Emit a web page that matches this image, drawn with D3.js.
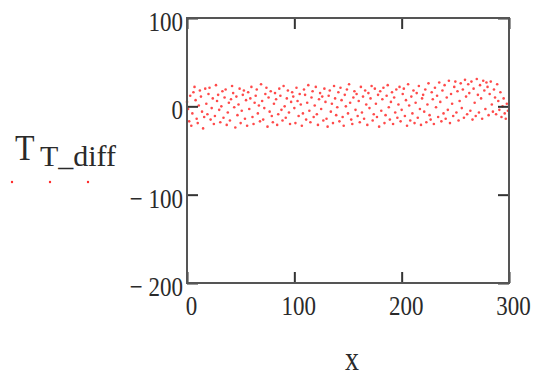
<!DOCTYPE html>
<html>
<head>
<meta charset="utf-8">
<script src="https://cdn.jsdelivr.net/npm/d3@7"></script>
<style>
  body { margin: 0; background: #fff; }
  text { font-family: "Liberation Serif", "Times New Roman", serif; fill: #2a2a2a; }
</style>
</head>
<body>
<div id="vis"></div>
<script>
// T_T_diff values, one per x = 0..299
var diffValues = [
  5, -3, -17, 12, -22, -8, 16, 22, 7, -14, -19, 1, 18, 11, -6, -25, -12, 20, 3, -9,
  14, 21, -15, -2, 9, -20, -11, 24, 6, 13, -4, -18, 0, 17, -13, 10, 19, -21, -7, 4,
  -16, 8, 23, 15, -1, -24, 11, -10, 2, 20, -19, -5, 13, 18, -14, 7, -22, 16, -3, 9,
  22, -12, -20, 4, 12, 19, -8, 1, -17, 25, 6, -15, -2, 14, 21, -23, 10, -6, 17, -11,
  -18, 3, 15, 8, -21, -9, 20, 12, -4, -16, 23, 0, -13, 9, 18, -7, -20, 5, 16, 11,
  -2, -19, 21, 6, -11, 14, 2, -22, -8, 19, 13, -15, 4, 24, -5, -18, 10, 17, -12, 1,
  22, -9, -21, 8, 15, -3, 11, -16, 20, 5, -14, -23, 12, 18, -6, 3, -19, 23, 9, -10,
  -1, 16, -17, 21, 7, -12, -22, 13, 0, 19, -8, 25, 4, -15, -20, 10, 17, -4, 14, -11,
  6, -18, 22, -7, 11, -14, 18, 2, -21, 15, -2, 9, 23, -16, -9, 20, 3, -12, 13, -23,
  17, -5, 8, 21, -19, -10, 12, 24, -1, -15, 5, 16, -20, 10, -7, 19, -13, 2, 22, -17,
  -4, 14, 20, -11, 7, -22, 25, 1, -16, 11, -8, 18, -19, 4, 15, -13, 23, -3, -21, 9,
  13, -6, 19, -18, 2, 26, -10, -15, 16, 8, -20, 21, -1, 12, -12, 27, 5, -17, 18, -8,
  24, -14, 10, -4, 29, -19, 14, 3, -11, 22, 28, -7, 17, -16, 6, 26, -2, 19, -13, 30,
  11, -9, 25, 15, -5, 28, -15, 20, 4, -11, 31, 13, -7, 24, 9, -14, 29, 18, -3, 27,
  22, -10, 14, 28, 2, -6, 19, 10, -9, 25, 6, -4, 16, -12, 0, 9, -8, -14, 3, -5
];
var xTicks = [0, 100, 200, 300];
var yTicks = [100, 0, -100, -200];
var xDomain = [0, 300];
var yDomain = [-200, 100];

var width = 537, height = 379;
var margin = {top: 18, right: 28, bottom: 96, left: 187};
var plotW = width - margin.left - margin.right,
    plotH = height - margin.top - margin.bottom;

var svg = d3.select("#vis").append("svg")
  .attr("width", width)
  .attr("height", height);

var xScale = d3.scaleLinear().domain(xDomain).range([margin.left, margin.left + plotW]);
var yScale = d3.scaleLinear().domain(yDomain).range([margin.top + plotH, margin.top]);

var fmt = function(d) { return d < 0 ? "\u2212 " + Math.abs(d) : d; };

// points first, frame on top
svg.append("g")
  .selectAll("circle")
  .data(diffValues)
  .enter().append("circle")
  .attr("cx", function(d, i) { return xScale(i); })
  .attr("cy", function(d) { return yScale(d); })
  .attr("r", 1.3)
  .style("fill", "#ff2a2a")
  .style("opacity", 0.85);

// axes (ticks point inwards)
var gLeft = svg.append("g")
  .attr("transform", "translate(" + margin.left + ",0)")
  .call(d3.axisLeft(yScale).tickValues(yTicks).tickSizeInner(-11).tickSizeOuter(0).tickPadding(4).tickFormat(fmt));
var gBottom = svg.append("g")
  .attr("transform", "translate(0," + (margin.top + plotH) + ")")
  .call(d3.axisBottom(xScale).tickValues(xTicks).tickSizeInner(-11).tickSizeOuter(0).tickPadding(10).tickFormat(d3.format("d")));
svg.append("g")
  .attr("transform", "translate(0," + margin.top + ")")
  .call(d3.axisTop(xScale).tickValues(xTicks).tickSizeInner(-11).tickSizeOuter(0).tickFormat(""));
svg.append("g")
  .attr("transform", "translate(" + (margin.left + plotW) + ",0)")
  .call(d3.axisRight(yScale).tickValues(yTicks).tickSizeInner(-11).tickSizeOuter(0).tickFormat(""));

svg.selectAll(".domain").remove();
svg.selectAll(".tick line").style("stroke", "#333").style("stroke-width", 2);
gLeft.selectAll("text").style("font-size", "23px").style("font-family", "Liberation Serif")
  .attr("transform", "translate(0,3.5) scale(1,1.2)");
gBottom.selectAll("text").style("font-size", "23px").style("font-family", "Liberation Serif")
  .attr("transform", "translate(4,0) scale(1,1.2)");

// frame
svg.append("rect")
  .attr("x", margin.left).attr("y", margin.top)
  .attr("width", plotW).attr("height", plotH)
  .style("fill", "none").style("stroke", "#555").style("stroke-width", 2);

// x axis title
svg.append("text")
  .attr("transform", "translate(" + (xScale(150) + 4) + ",370) scale(1,1.2)")
  .attr("text-anchor", "middle")
  .style("font-size", "28px")
  .text("x");

// y axis title: T with subscript T_diff
var yl = svg.append("g").attr("transform", "translate(15,160)");
yl.append("text").attr("transform", "scale(1,1.12)").style("font-size", "32px").text("T");
yl.append("text").attr("x", 25).attr("transform", "translate(0,6) scale(1,1.1)")
  .style("font-size", "26px").attr("textLength", 76).attr("lengthAdjust", "spacingAndGlyphs")
  .text("T_diff");

// trace marker sample under the title
var legendDots = [0, 1, 2];
svg.append("g").selectAll("circle")
  .data(legendDots)
  .enter().append("circle")
  .attr("cx", function(d) { return 12 + d * 38; })
  .attr("cy", 182)
  .attr("r", 1.2)
  .style("fill", "#ff2a2a");
</script>
</body>
</html>
